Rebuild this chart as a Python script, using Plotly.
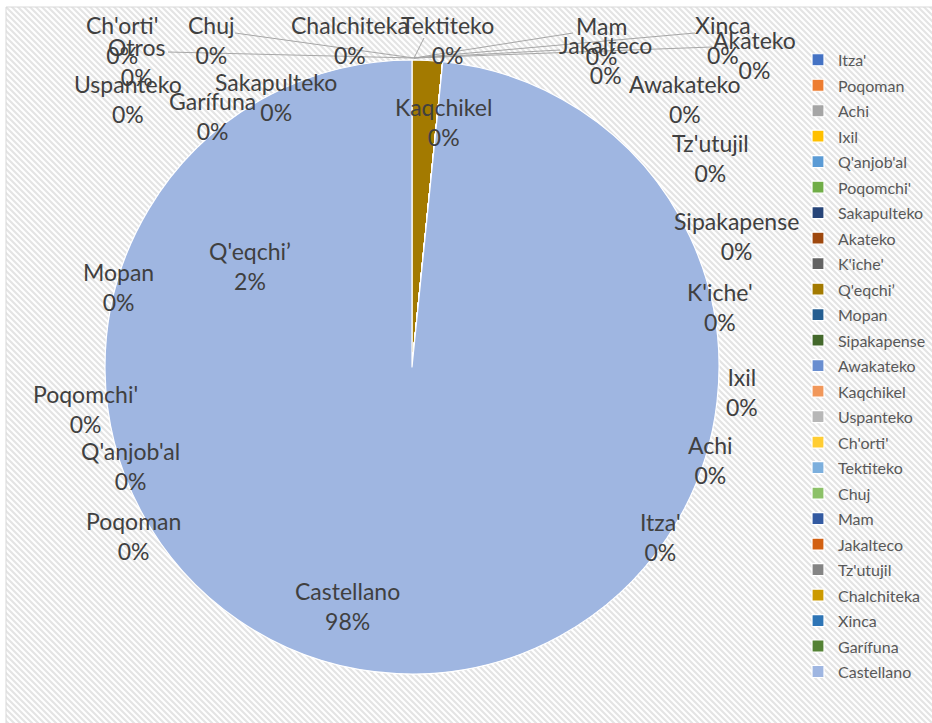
import base64
import plotly.graph_objects as go

W, H = 932, 723

# ---------------- data ----------------
languages = ["Itza'", "Poqoman", "Achi", "Ixil", "Q'anjob'al", "Poqomchi'",
             "Sakapulteko", "Akateko", "K'iche'", "Q'eqchi’", "Mopan",
             "Sipakapense", "Awakateko", "Kaqchikel", "Uspanteko", "Ch'orti'",
             "Tektiteko", "Chuj", "Mam", "Jakalteco", "Tz'utujil",
             "Chalchiteka", "Xinca", "Garífuna", "Castellano"]
shares = [0, 0, 0, 0, 0, 0,
          0, 0, 0, 1.6, 0,
          0, 0, 0, 0, 0,
          0, 0, 0, 0, 0,
          0, 0, 0, 98.4]
otros_label = "Otros"
otros_share = 0

colors = ["#4472C4", "#ED7D31", "#A5A5A5", "#FFC000", "#5B9BD5", "#70AD47",
          "#264478", "#9E480E", "#636363", "#A37A00", "#255E91", "#43682B",
          "#698ED0", "#F1975A", "#B7B7B7", "#FFCD33", "#7CAFDD", "#8CC168",
          "#335AA1", "#D26012", "#848484", "#CC9A00", "#2E75B6", "#548235",
          "#9FB6E1"]

# data-label placement (pixel centre of the name line), same order as languages
label_x = [660, 133, 710, 742, 130, 85,
           276, 754, 720, 250, 118,
           736, 685, 443, 128, 122,
           447, 211, 601, 605, 710,
           350, 723, 212, 347]
label_y = [521, 520, 445, 376, 450, 393,
           82, 40, 291, 250, 272,
           221, 84, 106, 84, 24,
           24, 24, 25, 44, 142,
           24, 24, 101, 590]
otros_xy = (137, 46)

# labels that carry a leader line (start point of the line, in pixels)
leader_from = {"Otros": (168, 52), "Chuj": (235, 33), "Tektiteko": (424, 38),
               "Mam": (573, 33), "Jakalteco": (560, 50), "Xinca": (695, 33),
               "Akateko": (712, 47)}

# ---------------- helpers ----------------
def px(x):
    return x / W

def py(y):
    return 1 - y / H

total = sum(shares) + otros_share

def pct_text(v):
    return f"{round(v / total * 100):.0f}%"

# pie geometry (pixels)
pie_left, pie_right, pie_top, pie_bottom = 105, 719, 60, 674
pie_cx = (pie_left + pie_right) / 2

# ---------------- background hatch ----------------
bg_w, bg_h = W - 6, H - 7
svg = f'''<svg xmlns="http://www.w3.org/2000/svg" width="{bg_w}" height="{bg_h}">
<defs><pattern id="p" width="6" height="6" patternUnits="userSpaceOnUse">
<rect width="6" height="6" fill="#ffffff"/>
<path d="M-3,-3 L9,9 M-3,3 L3,9 M3,-3 L9,3" stroke="#e4e4e4" stroke-width="2.1"/>
</pattern></defs>
<rect width="{bg_w}" height="{bg_h}" fill="url(#p)"/>
</svg>'''
bg_src = "data:image/svg+xml;base64," + base64.b64encode(svg.encode()).decode()

# ---------------- figure ----------------
legend_names = [f'<span style="font-size:16px">{n}</span>' for n in languages]

fig = go.Figure()
fig.add_trace(go.Pie(
    labels=legend_names,
    values=shares,
    sort=False,
    direction="clockwise",
    rotation=0,
    marker=dict(colors=colors, line=dict(color="white", width=1.2)),
    textinfo="none",
    hoverinfo="label+percent",
    domain=dict(x=[px(pie_left), px(pie_right)], y=[py(pie_bottom), py(pie_top)]),
    showlegend=True,
))

annotations = []
shapes = []

# leader lines
for name, (lx, ly) in leader_from.items():
    shapes.append(dict(type="line", xref="paper", yref="paper",
                       x0=px(lx), y0=py(ly), x1=px(pie_cx + 2), y1=py(pie_top - 2),
                       line=dict(color="#A6A6A6", width=1), layer="above"))

label_font = dict(family="Lato", size=23, color="#404040")
for name, v, x, y in zip(languages, shares, label_x, label_y):
    annotations.append(dict(text=f"{name}<br>{pct_text(v)}", x=px(x), y=py(y + 15.5),
                            xref="paper", yref="paper", xanchor="center", yanchor="middle",
                            showarrow=False, font=label_font))
annotations.append(dict(text=f"{otros_label}<br>{pct_text(otros_share)}",
                        x=px(otros_xy[0]), y=py(otros_xy[1] + 15.5),
                        xref="paper", yref="paper", xanchor="center", yanchor="middle",
                        showarrow=False, font=label_font))

# chart-area border
shapes.append(dict(type="rect", xref="paper", yref="paper",
                   x0=px(6), y0=py(7), x1=px(W + 3), y1=py(H + 3),
                   line=dict(color="#D9D9D9", width=1), layer="below"))

fig.update_layout(
    width=W, height=H,
    margin=dict(l=0, r=0, t=0, b=0),
    paper_bgcolor="white",
    plot_bgcolor="white",
    font=dict(family="Lato", color="#595959"),
    images=[dict(source=bg_src, xref="paper", yref="paper",
                 x=px(6), y=py(7), sizex=bg_w / W, sizey=bg_h / H,
                 xanchor="left", yanchor="top", sizing="stretch", layer="below")],
    legend=dict(x=px(798), xanchor="left", y=py(42), yanchor="top",
                font=dict(family="Lato", size=17.3, color="#595959"),
                bgcolor="rgba(0,0,0,0)", itemwidth=30, tracegroupgap=0),
    annotations=annotations,
    shapes=shapes,
)

fig.write_html("out.html",
               config={"displayModeBar": False},
               post_script="document.body.style.margin='0';document.body.style.padding='0';")
